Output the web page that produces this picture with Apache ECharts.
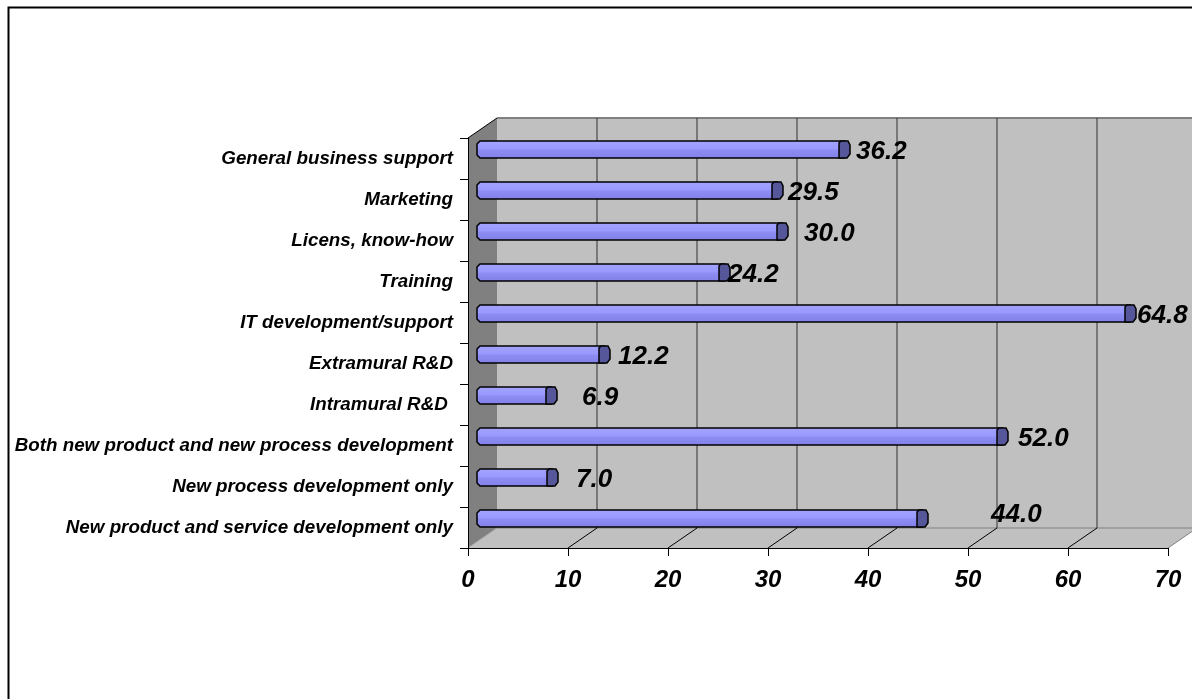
<!DOCTYPE html>
<html>
<head>
<meta charset="utf-8">
<script src="https://cdn.jsdelivr.net/npm/echarts@6/dist/echarts.min.js"></script>
<style>
  html, body { margin: 0; padding: 0; background: #fff; }
  #chart { width: 1192px; height: 699px; }
</style>
</head>
<body>
<div id="chart"></div>
<script>
// Categories listed bottom to top, as the category axis runs upward
const categories = [
  'New product and service development only',
  'New process development only',
  'Both new product and new process development',
  'Intramural R&D ',
  'Extramural R&D',
  'IT development/support',
  'Training',
  'Licens, know-how',
  'Marketing',
  'General business support'
];
const shares = [44.0, 7.0, 52.0, 6.9, 12.2, 64.8, 24.2, 30.0, 29.5, 36.2];
const xTicks = [0, 10, 20, 30, 40, 50, 60, 70];

// Per-bar nudge of the value label [dx, dy] in pixels
const labelNudge = [[62, -6], [17, 0], [9, 0], [24, 0], [7, 0], [0, 0], [-3, 0], [15, 0], [4, 0], [5, 0]];

// Depth of the pseudo-3D box (pixels)
const DX = 29, DY = -20;
const FONT = '"Liberation Sans", Arial, sans-serif';

function line(x1, y1, x2, y2, stroke, w) {
  return { type: 'line', shape: { x1, y1, x2, y2 }, style: { stroke, lineWidth: w || 1 } };
}

function renderWalls(params, api) {
  const cs = params.coordSys;
  const left = cs.x, top = cs.y, right = cs.x + cs.width, bottom = cs.y + cs.height;
  const ch = [];
  // back wall
  ch.push({ type: 'polygon', shape: { points: [[left + DX, top + DY], [right + DX, top + DY], [right + DX, bottom + DY], [left + DX, bottom + DY]] },
            style: { fill: '#c0c0c0' } });
  // floor
  ch.push({ type: 'polygon', shape: { points: [[left, bottom], [right, bottom], [right + DX, bottom + DY], [left + DX, bottom + DY]] },
            style: { fill: '#c0c0c0' } });
  // side wall
  ch.push({ type: 'polygon', shape: { points: [[left, top], [left + DX, top + DY], [left + DX, bottom + DY], [left, bottom]] },
            style: { fill: '#808080' } });
  ch.push(line(left + DX, top + DY, right + DX, top + DY, '#808080', 2));
  ch.push(line(left + DX, bottom + DY, right + DX, bottom + DY, '#808080', 1));
  ch.push(line(left, bottom, left + DX, bottom + DY, '#a8a8a8', 1));
  xTicks.forEach(function (v, k) {
    const x = api.coord([v, 0])[0];
    if (v > 0) {
      ch.push(line(x + DX, top + DY, x + DX, bottom + DY, '#303030', 1));
      ch.push(line(x, bottom, x + DX, bottom + DY, k === xTicks.length - 1 ? '#808080' : '#000', 1));
    }
  });
  ch.push(line(left, top, left + DX, top + DY, '#000', 1));
  return { type: 'group', children: ch };
}

function renderBar(params, api) {
  const v = api.value(0), i = api.value(1);
  const p0 = api.coord([0, i]), p1 = api.coord([v, i]);
  const cy = p0[1] + DY / 2 + 1;
  const x0 = p0[0] + DX / 2, x1 = p1[0] + DX / 2;
  const h = 17, rx = 5.5, t = cy - h / 2, b = cy + h / 2;
  const nudge = labelNudge[params.dataIndex];
  const body = {
    type: 'polygon',
    shape: { points: [[x0 - rx, t + 3], [x0 - rx + 3, t], [x1, t], [x1, b], [x0 - rx + 3, b], [x0 - rx, b - 3]] },
    style: {
      fill: new echarts.graphic.LinearGradient(0, 0, 0, 1, [
        { offset: 0, color: '#a4a4ff' },
        { offset: 0.45, color: '#9999ff' },
        { offset: 0.55, color: '#8c8cf2' },
        { offset: 1, color: '#8080e6' }
      ]),
      stroke: '#000', lineWidth: 1.5
    }
  };
  const cap = {
    type: 'polygon',
    shape: { points: [[x1 - rx, t + 2], [x1 - rx + 2, t], [x1 + rx - 2, t], [x1 + rx, t + 4], [x1 + rx, b - 4], [x1 + rx - 3, b], [x1 - rx, b]] },
    style: { fill: '#56569a', stroke: '#000', lineWidth: 1.5 }
  };
  const label = {
    type: 'text',
    style: {
      x: x1 + rx + 1 + nudge[0], y: cy + 2 + nudge[1],
      text: v.toFixed(1),
      font: 'italic bold 26px ' + FONT,
      fill: '#000',
      align: 'left', verticalAlign: 'middle',
      textAlign: 'left', textVerticalAlign: 'middle'
    }
  };
  return { type: 'group', children: [body, cap, label] };
}

const chart = echarts.init(document.getElementById('chart'), null, { renderer: 'canvas' });
chart.setOption({
  animation: false,
  backgroundColor: '#fff',
  graphic: [{
    type: 'rect', left: 6, top: 5, z: 100,
    shape: { x: 0, y: 0, width: 1200, height: 710 },
    style: { fill: null, stroke: '#000', lineWidth: 2 }
  }],
  grid: { left: 468, top: 138, width: 700, height: 410, containLabel: false },
  xAxis: {
    type: 'value', min: 0, max: 70, interval: 10, z: 5,
    axisLine: { show: true, lineStyle: { color: '#000', width: 1 } },
    axisTick: { show: true, length: 8, lineStyle: { color: '#000' } },
    splitLine: { show: false },
    axisLabel: {
      margin: 20, color: '#000', fontSize: 24, fontWeight: 'bold', fontStyle: 'italic', fontFamily: FONT,
      formatter: function (val) { return xTicks.indexOf(val) >= 0 ? String(val) : ''; }
    }
  },
  yAxis: {
    type: 'category', data: categories, z: 5,
    axisLine: { show: true, lineStyle: { color: '#000', width: 1 } },
    axisTick: { show: true, length: 8, lineStyle: { color: '#000' } },
    splitLine: { show: false },
    axisLabel: {
      interval: 0, margin: 15, color: '#000', fontSize: 18.8, fontWeight: 'bold', fontStyle: 'italic', fontFamily: FONT
    }
  },
  series: [
    {
      type: 'custom', name: 'walls', z: 1, silent: true,
      coordinateSystem: 'cartesian2d',
      data: [[0, 0]],
      renderItem: renderWalls
    },
    {
      type: 'custom', name: 'share', z: 3,
      coordinateSystem: 'cartesian2d',
      encode: { x: 0, y: 1 },
      data: shares.map(function (v, i) { return [v, i]; }),
      renderItem: renderBar
    }
  ]
});
</script>
</body>
</html>
